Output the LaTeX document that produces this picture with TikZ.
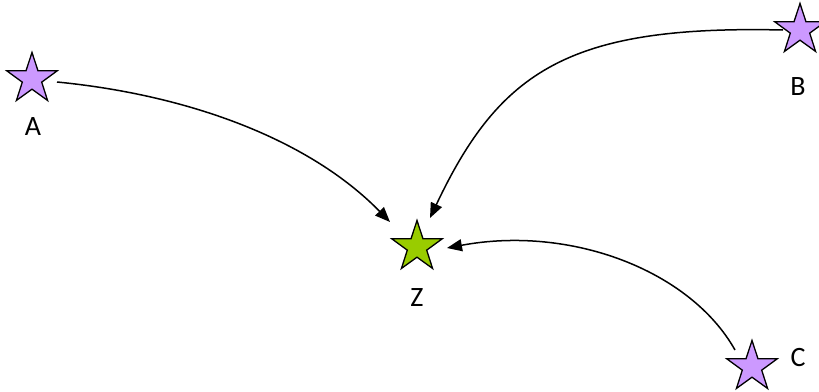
\documentclass[tikz,border=0pt]{standalone}
\usepackage{fontspec}
\setmainfont{Carlito}
\usetikzlibrary{shapes.geometric,arrows.meta,calc}
\definecolor{starpurple}{HTML}{CC99FF}
\definecolor{stargreen}{HTML}{99CC00}
\tikzset{
  starnode/.style={star,star points=5,star point ratio=2.6,minimum size=53pt,inner sep=0pt,draw=black,line width=1.3pt},
  lbl/.style={font=\fontsize{28}{32}\selectfont,inner sep=0pt},
  arr/.style={line width=1.5pt,-{Triangle[length=15pt,width=12pt]}}
}
\begin{document}
\begin{tikzpicture}[x=1pt,y=-1pt]
\useasboundingbox (0,0) rectangle (819,391);
\node[starnode,fill=starpurple] (A) at (32,79) {};
\node[starnode,fill=starpurple] (B) at (800,30) {};
\node[starnode,fill=starpurple] (C) at (752,367) {};
\node[starnode,fill=stargreen] (Z) at (417,247) {};
\node[lbl] (la) at (33,127) {A};
\node[lbl] (lb) at (798,87) {B};
\node[lbl] (lz) at (417,298) {Z};
\node[lbl] (lc) at (798,358) {C};
\draw[arr] ($(A)+(25,3)$) .. controls (190,95) and (310,140) .. ($(Z)+(-27,-25)$);
\draw[arr] ($(B)+(-17,0)$) .. controls (570,25) and (500,70) .. ($(Z)+(13,-29)$);
\draw[arr] ($(C)+(-17,-17)$) .. controls (690,270) and (570,225) .. ($(Z)+(30,1)$);
\end{tikzpicture}
\end{document}
